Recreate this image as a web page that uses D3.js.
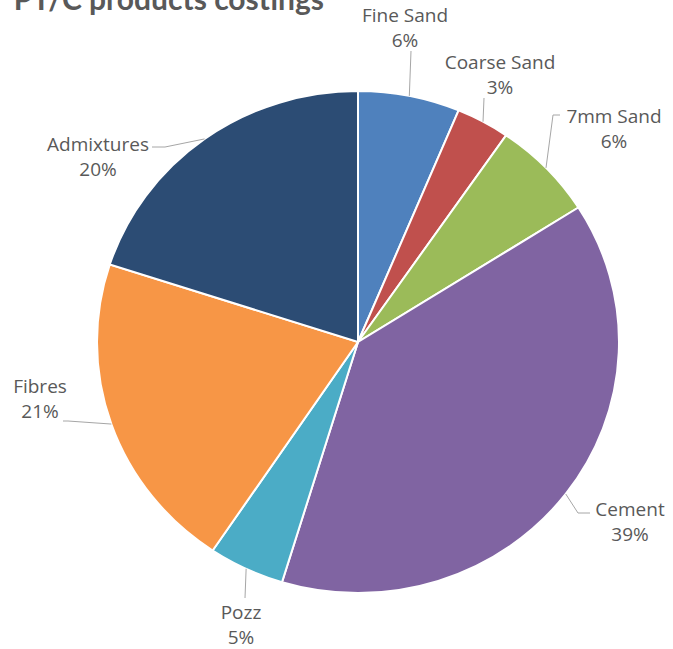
<!DOCTYPE html>
<html>
<head>
<meta charset="utf-8">
<script src="https://cdn.jsdelivr.net/npm/d3@7"></script>
<style>
  body { margin: 0; background: #fff; }
  svg { display: block; }
  .title { font-family: Lato, "Open Sans", sans-serif; font-weight: bold; fill: #595959; }
  .label { font-family: "Open Sans", sans-serif; font-size: 19px; fill: #595959; }
  .leader { fill: none; stroke: #a6a6a6; stroke-width: 1; }
</style>
</head>
<body>
<svg width="673" height="649"></svg>
<script>
// Slice names, shares (%) and colours, clockwise from 12 o'clock
var categories = ['Fine Sand', 'Coarse Sand', '7mm Sand', 'Cement', 'Pozz', 'Fibres', 'Admixtures'];
var shares = [6.3, 3.3, 6.4, 38.7, 4.7, 20.6, 20.0];
var colors = ['#4f81bd', '#c0504d', '#9bbb59', '#8064a2', '#4bacc6', '#f79646', '#2c4c74'];

// Where each data label sits (text centre, first baseline) and the leader end
var labelLayout = [
    {x: 405, y: 22, end: [411, 51]},
    {x: 500, y: 69, end: [484, 98]},
    {x: 614, y: 123, end: [553, 115], stub: 560},
    {x: 630, y: 516, end: [578, 513], stub: 590},
    {x: 241, y: 619, end: [245, 598]},
    {x: 40, y: 393, end: [68, 421], stub: 63},
    {x: 98, y: 151, end: [165, 147], stub: 152}
];

var svg = d3.select('svg');

var center = {x: 358, y: 342};
var rx = 261, ry = 251;
var squash = ry / rx;

var total = d3.sum(shares);

var pie = d3.pie().sort(null).value(function(d){ return d; });
var arcs = pie(shares);

var arc = d3.arc().innerRadius(0).outerRadius(rx);
var edge = d3.arc().innerRadius(rx).outerRadius(rx);

// Title, mostly cut off by the top edge (as in the original screenshot)
svg.append('text')
    .attr('class', 'title')
    .attr('x', 324)
    .attr('y', 10)
    .attr('text-anchor', 'end')
    .style('font-size', '30px')
    .text('PT/C products costings');

var pieG = svg.append('g')
    .attr('transform', 'translate(' + [center.x, center.y] + ') scale(1,' + squash + ')');

pieG.selectAll('path.slice')
    .data(arcs)
    .enter()
    .append('path')
    .attr('class', 'slice')
    .attr('d', arc)
    .attr('fill', function(d, i){ return colors[i]; })
    .attr('stroke', '#fff')
    .attr('stroke-width', 2)
    .attr('vector-effect', 'non-scaling-stroke');

// Leader lines from the slice edge to the label
svg.selectAll('path.leader')
    .data(arcs)
    .enter()
    .append('path')
    .attr('class', 'leader')
    .attr('d', function(d, i){
        var c = edge.centroid(d);
        var p0 = [center.x + c[0], center.y + c[1] * squash];
        var L = labelLayout[i];
        var pts = [p0, L.end];
        if (L.stub !== undefined) pts.push([L.stub, L.end[1]]);
        return d3.line()(pts);
    });

var labels = svg.selectAll('text.label')
    .data(arcs)
    .enter()
    .append('text')
    .attr('class', 'label')
    .attr('text-anchor', 'middle');

labels.append('tspan')
    .attr('x', function(d, i){ return labelLayout[i].x; })
    .attr('y', function(d, i){ return labelLayout[i].y; })
    .text(function(d, i){ return categories[i]; });

labels.append('tspan')
    .attr('x', function(d, i){ return labelLayout[i].x; })
    .attr('y', function(d, i){ return labelLayout[i].y + 25; })
    .text(function(d){ return Math.round(d.value / total * 100) + '%'; });
</script>
</body>
</html>
